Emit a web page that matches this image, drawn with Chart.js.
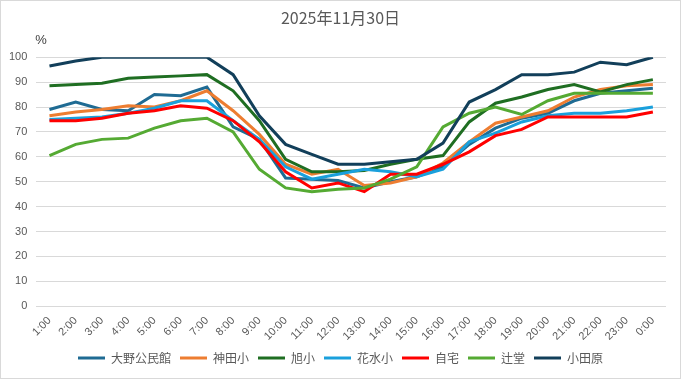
<!DOCTYPE html>
<html>
<head>
<meta charset="utf-8">
<script src="https://cdn.jsdelivr.net/npm/chart.js@4"></script>
<style>
html,body{margin:0;padding:0;background:#fff;}
#wrap{position:relative;width:681px;height:379px;box-sizing:border-box;border:1px solid #d9d9d9;}
canvas{display:block;}
</style>
</head>
<body>
<div id="wrap"><canvas id="c" width="679" height="377"></canvas></div>
<script>
const titleText = "2025年11月30日";
const unitLabel = "%";
const hours = ["1:00","2:00","3:00","4:00","5:00","6:00","7:00","8:00","9:00","10:00","11:00","12:00","13:00","14:00","15:00","16:00","17:00","18:00","19:00","20:00","21:00","22:00","23:00","0:00"];
const seriesNames = ["大野公民館","神田小","旭小","花水小","自宅","辻堂","小田原"];
const ohno    = [79,82,79,78.5,85,84.5,88,72,67,51.5,51,50.5,47.5,50,52,56,65,71.5,75.5,77.5,82.5,85.5,86.5,87.5];
const kanda   = [76.5,78,79,80.5,80,82.5,86.5,78.5,69,57,53,55,48.5,49.5,52,57.5,66,73.5,76,78.5,84,87,88.5,89];
const asahi   = [88.5,89,89.5,91.5,92,92.5,93,86.5,74.5,59,54,54,54.5,57,59,60.5,74,81.5,84,87,89,86,89,91];
const hanamizu= [75,75.5,76,77.5,79.5,82.5,82.5,74.5,67,56,51,53,55,54,52,55,66,69.5,74,76.5,77.5,77.5,78.5,80];
const jitaku  = [74.5,74.5,75.5,77.5,78.5,80.5,79.5,74.5,66,54,47.5,49.5,46,53,53,57,62,68.5,71,76,76,76,76,78];
const tsujido = [60.5,65,67,67.5,71.5,74.5,75.5,70,55,47.5,46,47,47.5,51,56,72,77.5,80,77,82.5,85.5,85.5,85.5,85.5];
const odawara = [96.5,98.5,100,100,100,100,100,93,76.5,65,61,57,57,58,59,65.5,82,87,93,93,94,98,97,100];
const yTicks = [0,10,20,30,40,50,60,70,80,90,100];

const allSeries = [ohno,kanda,asahi,hanamizu,jitaku,tsujido,odawara];
const colors = ["#1F6B93","#ED7D31","#1F6E22","#1AA0DC","#FF0000","#55AA33","#123F5A"];

const unitPlugin = {
  id: "unitLabel",
  afterDraw(chart){
    const ctx = chart.ctx;
    ctx.save();
    ctx.fillStyle = "#404040";
    ctx.font = "13px 'Liberation Sans', 'Noto Sans', sans-serif";
    ctx.textAlign = "left";
    ctx.textBaseline = "middle";
    ctx.fillText(unitLabel, chart.chartArea.left - 1, 39);
    ctx.restore();
  }
};

new Chart(document.getElementById("c"), {
  type: "line",
  data: {
    labels: hours,
    datasets: seriesNames.map((n,i)=>({
      label: n,
      data: allSeries[i],
      borderColor: colors[i],
      backgroundColor: colors[i],
      borderWidth: 3,
      pointRadius: 0,
      pointHoverRadius: 0,
      tension: 0,
      fill: false,
      order: seriesNames.length - i
    }))
  },
  options: {
    responsive: false,
    animation: false,
    layout: { padding: { left: 7, right: 7, top: 6, bottom: 4 } },
    plugins: {
      title: {
        display: true,
        text: titleText,
        color: "#595959",
        font: { family: "'Noto Sans CJK JP', sans-serif", size: 16, weight: "normal" },
        padding: { top: 1, bottom: 30 }
      },
      legend: {
        position: "bottom",
        labels: {
          usePointStyle: true,
          pointStyle: "line",
          pointStyleWidth: 27,
          boxHeight: 3,
          padding: 9,
          color: "#595959",
          font: { family: "'Noto Sans CJK JP', sans-serif", size: 12 },
          sort: (a,b) => a.datasetIndex - b.datasetIndex
        }
      },
      tooltip: { enabled: false }
    },
    scales: {
      x: {
        offset: true,
        grid: { display: false },
        border: { display: false },
        ticks: {
          color: "#595959",
          font: { family: "'Liberation Sans', sans-serif", size: 11 },
          minRotation: 45,
          maxRotation: 45,
          autoSkip: false,
          padding: 0
        }
      },
      y: {
        min: 0,
        max: 100,
        afterBuildTicks(scale){ scale.ticks = yTicks.map(v=>({value:v})); },
        afterFit(scale){ scale.width -= 8; },
        grid: { color: "#d9d9d9", lineWidth: 1, drawTicks: false },
        border: { display: false },
        ticks: {
          color: "#595959",
          font: { family: "'Liberation Sans', sans-serif", size: 11 },
          padding: 9
        }
      },
      yRight: {
        position: "right",
        display: true,
        min: 0,
        max: 100,
        afterFit(scale){ scale.width = 7; },
        grid: { display: false, drawTicks: false },
        border: { display: false },
        ticks: { display: false }
      }
    }
  },
  plugins: [unitPlugin]
});
</script>
</body>
</html>
